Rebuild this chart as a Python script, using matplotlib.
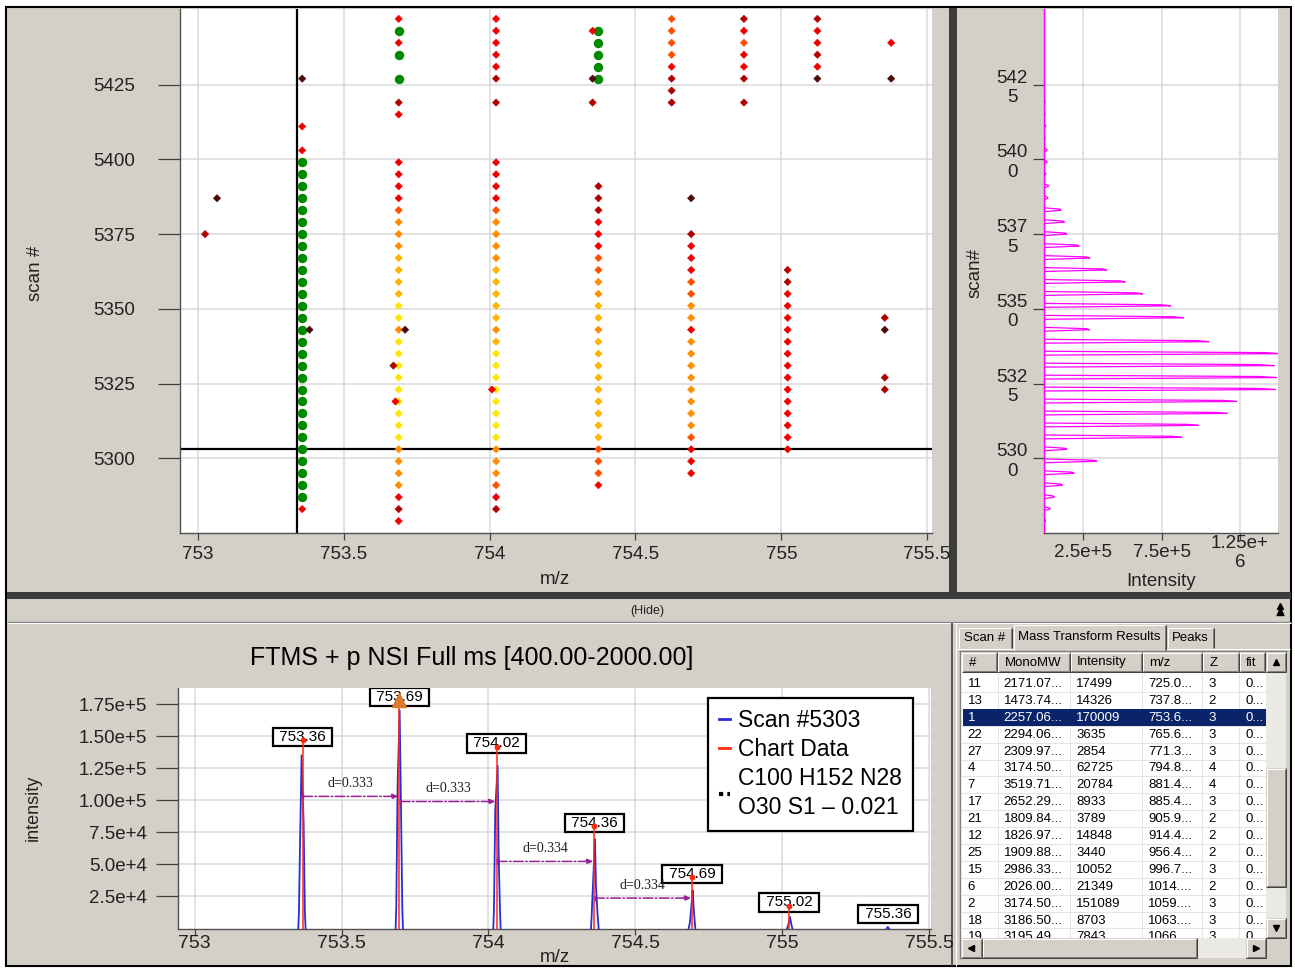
import matplotlib
matplotlib.use('Agg')
import matplotlib.pyplot as plt
from matplotlib.patches import Rectangle
from matplotlib.lines import Line2D

plt.rcParams['font.family'] = ['Liberation Sans', 'DejaVu Sans']
NARROW = ['Liberation Sans Narrow', 'Liberation Sans', 'DejaVu Sans']

# ---------------- data: scan map (top-left) ----------------
ms1_scans = [5279, 5283, 5287, 5291, 5295, 5299, 5303, 5307, 5311, 5315,
             5319, 5323, 5327, 5331, 5335, 5339, 5343, 5347, 5351, 5355,
             5359, 5363, 5367, 5371, 5375, 5379, 5383, 5387, 5391, 5395,
             5399, 5403, 5407, 5411, 5415, 5419, 5423, 5427, 5431, 5435,
             5439, 5443, 5447]

peak_col_mz = [753.357, 753.688, 754.022, 754.373, 754.353, 754.691,
               755.022, 755.355, 754.624, 754.872, 755.124, 755.377]
# one character per ms1 scan: G=isotope-fit (green), Y/A/O/N/R/D/K = intensity level, '.' = none
peak_col_levels = [
    ".R" "GGGGGGGGGG" "GGGGGGGGGG" "GGGGGGGGG" "R.R...K.....",
    "RDROOOO" "YYYYYYYYY" "OYY" "AAAA" "OOO" "N" "RRRR" "..." "RD.G.GRGR",
    ".DRN" "OOO" "YYYYYYYY" "AO" "AAAAA" "OOOO" "N" "RRRR" "...." "D.D" "RRRRR",
    "...R" "NNN" "AAAAAAAAA" "OAAOO" "NN" "RRR" "DDD" "........" "GGGGG" ".",
    ".........." ".........." ".........." "....." "D.K...R.",
    "...." "RRRN" "OOOOOOOO" "ROONN" "RRRD" ".." "K" ".........." ".....",
    "......" "RRRRRRRRRRRRRR" "DD" ".........." ".........." ".",
    "..........." "DD" "..." "KD" ".........." ".........." ".....",
    ".........." ".........." ".........." "....." "DDDRNNNN",
    ".........." ".........." ".........." "....." "D.DRRNRD",
    ".........." ".........." ".........." "......." "KRDRRD",
    ".........." ".........." ".........." "......." "K..R..",
]
out_mz = [753.065, 753.024, 753.382, 753.710, 753.670, 753.677, 754.008]
out_scan = [5387, 5375, 5343, 5343, 5331, 5319, 5323]
out_level = "KDKKDRR"
sel_mz = 753.339
sel_scan = 5303

mz_ticks = [753, 753.5, 754, 754.5, 755, 755.5]
mz_tick_labels = ["753", "753.5", "754", "754.5", "755", "755.5"]
scan_ticks = [5300, 5325, 5350, 5375, 5400, 5425]
scan_tick_labels = ["5300", "5325", "5350", "5375", "5400", "5425"]
scan_tick_labels_wrapped = ["530\n0", "532\n5", "535\n0", "537\n5", "540\n0", "542\n5"]

# ---------------- data: chromatogram (top-right) ----------------
hist_scans = [5279, 5283, 5287, 5291, 5295, 5299, 5303, 5307, 5311, 5315,
              5319, 5323, 5327, 5331, 5335, 5339, 5343, 5347, 5351, 5355,
              5359, 5363, 5367, 5371, 5375, 5379, 5383, 5387, 5391, 5395,
              5399, 5403, 5407, 5411, 5415, 5419]
hist_int = [8000, 38000, 65000, 116000, 191000, 336000, 144000, 879000, 985000, 1170000,
            1230000, 1479000, 1485000, 1470000, 1520000, 1053000, 289000, 889000, 808000, 630000,
            517000, 400000, 291000, 223000, 144000, 129000, 108000, 23000, 27000, 10000,
            18000, 18000, 5000, 10000, 5000, 5000]
int_ticks = [2.5e5, 7.5e5, 1.25e6]
int_tick_labels = ["2.5e+5", "7.5e+5", "1.25e+\n6"]

# ---------------- data: spectrum (bottom-left) ----------------
blue_peaks_mz = [
    [753.3527, 753.3550, 753.3595, 753.3641, 753.3709, 753.3754, 753.3777],
    [753.6840, 753.6863, 753.6908, 753.6977, 753.7022, 753.7067, 753.7090],
    [754.0164, 754.0187, 754.0232, 754.0312, 754.0346, 754.0391, 754.0414],
    [754.3489, 754.3512, 754.3568, 754.3625, 754.3659, 754.3716, 754.3750],
    [754.6813, 754.6858, 754.6915, 754.6949, 754.6995, 754.7040],
    [755.0160, 755.0205, 755.0262, 755.0308, 755.0342],
    [755.3553, 755.3587, 755.3632],
]
blue_peaks_int = [
    [0, 12000, 75600, 135000, 82600, 12000, 0],
    [0, 17000, 110700, 170000, 97700, 17000, 0],
    [0, 15000, 92500, 126800, 60000, 15000, 0],
    [0, 10000, 40000, 69700, 32800, 10000, 0],
    [0, 5000, 20000, 29700, 12000, 0],
    [0, 3000, 9000, 3000, 0],
    [0, 1200, 0],
]
red_mz = [753.368, 753.697, 754.028, 754.359, 754.693, 755.023]
red_int = [147000, 178000, 141800, 80000, 40000, 17800]
apex_mz = [753.367, 753.697, 754.028, 754.361, 754.693, 755.023, 755.360]
apex_int = [147000, 178000, 141800, 80000, 40000, 17800, 1200]
apex_text = ["753.36", "753.69", "754.02", "754.36", "754.69", "755.02", "755.36"]
mono_mz = 753.697
mono_int = 178000
d_start = [753.368, 753.700, 754.030, 754.361]
d_end = [753.694, 754.024, 754.357, 754.690]
d_int = [103000, 99000, 52300, 23700]
d_text = ["d=0.333", "d=0.333", "d=0.334", "d=0.334"]
spec_y_ticks = [25000, 50000, 75000, 100000, 125000, 150000, 175000]
spec_y_labels = ["2.5e+4", "5.0e+4", "7.5e+4", "1.00e+5", "1.25e+5", "1.50e+5", "1.75e+5"]
legend_labels = ["Scan #5303", "Chart Data", "C100 H152 N28\nO30 S1 \u2013 0.021"]
spec_title = "FTMS + p NSI Full ms [400.00-2000.00]"

# ---------------- data: results table ----------------
tab_names = ["Scan #", "Mass Transform Results", "Peaks"]
table_cols = ["#", "MonoMW", "Intensity", "m/z", "Z", "fit"]
table_rows = [
    ["11", "2171.07...", "17499", "725.0...", "3", "0..."],
    ["13", "1473.74...", "14326", "737.8...", "2", "0..."],
    ["1", "2257.06...", "170009", "753.6...", "3", "0..."],
    ["22", "2294.06...", "3635", "765.6...", "3", "0..."],
    ["27", "2309.97...", "2854", "771.3...", "3", "0..."],
    ["4", "3174.50...", "62725", "794.8...", "4", "0..."],
    ["7", "3519.71...", "20784", "881.4...", "4", "0..."],
    ["17", "2652.29...", "8933", "885.4...", "3", "0..."],
    ["21", "1809.84...", "3789", "905.9...", "2", "0..."],
    ["12", "1826.97...", "14848", "914.4...", "2", "0..."],
    ["25", "1909.88...", "3440", "956.4...", "2", "0..."],
    ["15", "2986.33...", "10052", "996.7...", "3", "0..."],
    ["6", "2026.00...", "21349", "1014....", "2", "0..."],
    ["2", "3174.50...", "151089", "1059....", "3", "0..."],
    ["18", "3186.50...", "8703", "1063....", "3", "0..."],
    ["19", "3195.49...", "7843", "1066....", "3", "0..."],
]
selected_row = 2

for s in peak_col_levels:
    assert len(s) == len(ms1_scans), (len(s), s)

# ---------------- styling ----------------
W, H = 1295, 968
GRAY = '#d4d0c8'
DARKBAND = '#3c3c3c'
LVL = {'Y': '#ffe600', 'A': '#ffb400', 'O': '#ff8c00', 'N': '#ff4e00',
       'R': '#f00000', 'D': '#b00000', 'K': '#4a0a0a'}
GREEN = '#008a00'
GRID = '#dadada'
TXT = '#222222'

fig = plt.figure(figsize=(W / 100, H / 100), dpi=100)
fig.patch.set_facecolor('white')


def rect(x0, y0, x1, y1):
    return [x0 / W, 1 - y1 / H, (x1 - x0) / W, (y1 - y0) / H]


bg = fig.add_axes([0, 0, 1, 1])
bg.set_xlim(0, W)
bg.set_ylim(H, 0)
bg.axis('off')


def box(x0, y0, x1, y1, fc, ec='none', lw=0, z=1):
    bg.add_patch(Rectangle((x0, y0), x1 - x0, y1 - y0, fc=fc, ec=ec, lw=lw, zorder=z))


def hl(x0, x1, y, c, lw=0.75, z=2):
    bg.plot([x0, x1], [y, y], color=c, lw=lw, zorder=z, solid_capstyle='butt')


def vl(x, y0, y1, c, lw=0.75, z=2):
    bg.plot([x, x], [y0, y1], color=c, lw=lw, zorder=z, solid_capstyle='butt')


def bevel(x0, y0, x1, y1, z=5):
    box(x0, y0, x1, y1, GRAY, z=z)
    hl(x0, x1, y0 + 0.5, 'white', z=z + 0.1)
    vl(x0 + 0.5, y0, y1, 'white', z=z + 0.1)
    hl(x0, x1, y1 - 0.5, '#404040', z=z + 0.1)
    vl(x1 - 0.5, y0, y1, '#404040', z=z + 0.1)
    hl(x0 + 1, x1 - 1, y1 - 1.5, '#808080', z=z + 0.1)
    vl(x1 - 1.5, y0 + 1, y1 - 1, '#808080', z=z + 0.1)


# window chrome
box(6, 7, 1291, 966, GRAY, ec='black', lw=1.5, z=0.5)
box(949, 8, 957, 592, DARKBAND, z=1)
box(7, 592, 1291, 599, DARKBAND, z=1)
hl(7, 1291, 621.5, '#808080', lw=1)
hl(7, 1291, 622.7, 'white', lw=0.8)
bg.text(647, 611, "(Hide)", fontsize=9, family=NARROW, ha='center', va='center', color=TXT)
bg.plot([1280], [606], marker='^', ms=5, color='black', zorder=3)
bg.plot([1280], [611], marker='^', ms=5, color='black', zorder=3)
hl(1276, 1284, 615, 'black', lw=1, z=3)
vl(951.5, 623, 966, '#404040', lw=1.2)
vl(955.5, 623, 966, 'white', lw=0.8)

# tabs
tab_x = [(958, 1012), (1013, 1166), (1167, 1214)]
hl(955, 1290, 648.5, 'white', lw=0.8, z=2)
for i, (name, (tx0, tx1)) in enumerate(zip(tab_names, tab_x)):
    ty0 = 624 if i == 1 else 627
    ty1 = 649.5 if i == 1 else 648
    box(tx0, ty0, tx1, ty1, GRAY, z=2.2)
    hl(tx0 + 1, tx1 - 1, ty0 + 0.5, 'white', z=2.3)
    vl(tx0 + 0.5, ty0 + 1, ty1, 'white', z=2.3)
    vl(tx1 - 0.5, ty0 + 1, ty1, '#404040', z=2.3)
    vl(tx1 - 1.5, ty0 + 1, ty1, '#808080', z=2.3)
    bg.text((tx0 + tx1) / 2, (ty0 + ty1) / 2 + 0.5, name, fontsize=9.5, ha='center',
            va='center', color='black', zorder=2.5)

# grid area
col_x = [961.7, 997.7, 1070, 1142.3, 1202.3, 1239, 1265.7]
box(961, 652, 1267, 938, 'white', z=2)
hl(959, 1287, 651.3, '#808080', lw=1, z=2.1)
vl(959.8, 651, 959, '#808080', lw=1, z=2.1)
row_h = 16.9
row_top0 = 675
for r, row in enumerate(table_rows):
    yt = row_top0 + r * row_h
    sel = (r == selected_row)
    if sel:
        box(962.5, yt, 1265.7, yt + row_h, '#0a246a', z=3)
    hl(961, 1266, yt + row_h, '#e4e4e4', lw=0.8, z=2.6)
    for c, val in enumerate(row):
        bg.text(col_x[c] + 6, yt + row_h / 2 + 0.5, val, fontsize=9.5, ha='left', va='center',
                color='white' if sel else 'black', zorder=4)
for cx in col_x[1:-1]:
    vl(cx, 672, 938, '#e4e4e4', lw=0.8, z=2.6)
for c, name in enumerate(table_cols):
    bevel(col_x[c], 652, col_x[c + 1], 672, z=4.5)
    bg.text(col_x[c] + 7, 662.5, name, fontsize=9.5, ha='left', va='center', color='black', zorder=4.8)

# scroll bars
box(1266, 652, 1286, 938, '#ebe9e4', z=5)
bevel(1266, 652, 1286, 672, z=5.2)
bg.plot([1276], [661.5], marker='^', ms=4.5, color='black', zorder=6)
bevel(1266, 768, 1286, 887, z=5.2)
bevel(1266, 918, 1286, 938, z=5.2)
bg.plot([1276], [927.5], marker='v', ms=4.5, color='black', zorder=6)
box(961, 938, 1266, 958, '#ebe9e4', z=5)
bevel(961, 938, 982, 958, z=5.2)
bg.plot([971], [948], marker='<', ms=4.5, color='black', zorder=6)
bevel(982, 938, 1197, 958, z=5.2)
bevel(1246, 938, 1266, 958, z=5.2)
bg.plot([1256], [948], marker='>', ms=4.5, color='black', zorder=6)
box(1266, 938, 1286, 958, GRAY, z=5.1)


def style_axes(ax):
    ax.set_facecolor('white')
    for sp in ['top', 'right']:
        ax.spines[sp].set_visible(False)
    for sp in ['left', 'bottom']:
        ax.spines[sp].set_color('#505050')
        ax.spines[sp].set_linewidth(1.0)
    ax.grid(True, color=GRID, lw=1.1)
    ax.set_axisbelow(True)


# ---------------- top-left: scan map ----------------
ax1 = fig.add_axes(rect(180, 9, 932, 533))
style_axes(ax1)
ax1.set_xlim(752.938, 755.517)
ax1.set_ylim(5275.0, 5450.3)
ax1.set_xticks(mz_ticks)
ax1.set_xticklabels(mz_tick_labels)
ax1.set_yticks(scan_ticks)
ax1.set_yticklabels(scan_tick_labels)
ax1.tick_params(axis='y', length=15.8, width=0.9, pad=16.5, labelsize=13.5,
                color='#404040', labelcolor=TXT)
ax1.tick_params(axis='x', length=5, width=0.9, pad=4.2, labelsize=13.5,
                color='#404040', labelcolor=TXT)

gx, gy, sx, sy, sc = [], [], [], [], []
for mz, levels in zip(peak_col_mz, peak_col_levels):
    for scan, lv in zip(ms1_scans, levels):
        if lv == '.':
            continue
        if lv == 'G':
            gx.append(mz)
            gy.append(scan)
        else:
            sx.append(mz)
            sy.append(scan)
            sc.append(LVL[lv])
for mz, scan, lv in zip(out_mz, out_scan, out_level):
    sx.append(mz)
    sy.append(scan)
    sc.append(LVL[lv])

ax1.axvline(sel_mz, color='black', lw=1.6, zorder=2)
ax1.axhline(sel_scan, color='black', lw=1.6, zorder=2)
ax1.scatter(gx, gy, s=46, c=GREEN, marker='o', linewidths=0, zorder=3)
ax1.scatter(sx, sy, s=14, c=sc, marker='D', linewidths=0.4, edgecolors=sc, zorder=4)

bg.text(35, 273, "scan #", rotation=90, fontsize=13.5, ha='center', va='center', color=TXT)
bg.text(555, 580, "m/z", fontsize=13.5, ha='center', va='center', color=TXT)

# ---------------- top-right: intensity vs scan ----------------
ax2 = fig.add_axes(rect(1044, 9, 1278, 533))
style_axes(ax2)
ax2.set_xlim(-1500, 1.4936e6)
ax2.set_ylim(5275.0, 5450.3)
ax2.set_xticks(int_ticks)
ax2.set_xticklabels(int_tick_labels, va='center', ma='center', linespacing=1.1)
ax2.set_yticks(scan_ticks)
ax2.set_yticklabels(scan_tick_labels_wrapped, ma='center', linespacing=1.2)
ax2.tick_params(axis='y', length=7.9, width=0.9, pad=3.6, labelsize=13.5,
                color='#404040', labelcolor=TXT)
ax2.tick_params(axis='x', length=4.7, width=0.9, pad=9.6, labelsize=13.5,
                color='#404040', labelcolor=TXT)
hx, hy = [], []
for scan, val in zip(hist_scans, hist_int):
    hx += [0, val, val * 0.93, 0]
    hy += [scan - 0.5, scan, scan + 0.35, scan + 0.8]
ax2.axvline(0, color='#ff00ff', lw=1.6, zorder=3)
ax2.plot(hx, hy, color='#ff00ff', lw=0.9, zorder=3)
bg.text(975, 273, "scan#", rotation=90, fontsize=13.5, ha='center', va='center', color=TXT)
bg.text(1161, 581, "Intensity", fontsize=13.5, ha='center', va='center', color=TXT)

# ---------------- bottom-left: spectrum ----------------
ax3 = fig.add_axes(rect(178, 688, 931, 928.5))
style_axes(ax3)
ax3.set_xlim(752.9435, 755.506)
ax3.set_ylim(0, 187500)
ax3.set_xticks(mz_ticks)
ax3.set_xticklabels(mz_tick_labels)
ax3.set_yticks(spec_y_ticks)
ax3.set_yticklabels(spec_y_labels)
ax3.tick_params(axis='y', length=15.8, width=0.9, pad=6.5, labelsize=13.5,
                color='#404040', labelcolor=TXT)
ax3.tick_params(axis='x', length=4, width=0.9, pad=0.5, labelsize=14,
                color='#404040', labelcolor=TXT)

BLUE = '#2b2bd8'
RED = '#ff2a10'
PURPLE = '#9a209a'
for pmz, pint in zip(blue_peaks_mz, blue_peaks_int):
    ax3.plot(pmz, pint, color=BLUE, lw=1.3, zorder=3)
ax3.vlines(red_mz, 0, red_int, color=RED, lw=1.1, zorder=5)
ax3.plot(red_mz, red_int, 'o', color=RED, ms=3.2, zorder=6)
for x, top, txt in zip(apex_mz, apex_int, apex_text):
    ax3.text(x, max(top + 2500, 11500), " " + txt + " ", ha='center', va='center', fontsize=11,
             zorder=4.5, clip_on=True,
             bbox=dict(boxstyle='square,pad=0.14', fc='white', ec='black', lw=1.6))
ax3.plot([mono_mz], [mono_int], marker='^', ms=10, color='#d97a2e', zorder=7)
for x0, x1, y, txt in zip(d_start, d_end, d_int, d_text):
    ax3.annotate('', xy=(x1, y), xytext=(x0, y),
                 arrowprops=dict(arrowstyle='-|>,head_length=0.35,head_width=0.15', color=PURPLE,
                                 lw=1.1, linestyle='-.', shrinkA=0, shrinkB=0), zorder=6)
    ax3.plot([x0], [y], marker='|', ms=5, color=PURPLE, zorder=6)
    ax3.annotate(txt, xy=((x0 + x1) / 2, y), xytext=(0, 9.1), textcoords='offset points',
                 ha='center', va='center', fontsize=10, family=['Liberation Serif', 'DejaVu Serif'],
                 color='#202020', zorder=6)

handles = [Line2D([], [], color=BLUE, lw=2),
           Line2D([], [], color=RED, lw=2),
           Line2D([], [], color='black', lw=3, linestyle=(0, (1, 1)))]
leg = ax3.legend(handles, legend_labels, loc='upper left', bbox_to_anchor=(708 / W, 1 - 698 / H),
                 bbox_transform=fig.transFigure, fontsize=16.5, frameon=True, fancybox=False,
                 edgecolor='black', framealpha=1, borderpad=0.5, handlelength=0.45,
                 handletextpad=0.35, labelspacing=0.25, borderaxespad=0)
leg.get_frame().set_linewidth(1.6)
leg.get_texts()[2].set_linespacing(1.35)
leg.set_zorder(10)

bg.text(472, 658, spec_title, fontsize=18, ha='center', va='center', color='black')
bg.text(33, 808, "intensity", rotation=90, fontsize=13, ha='center', va='center', color=TXT)
bg.text(555, 958, "m/z", fontsize=13.5, ha='center', va='center', color=TXT)

fig.savefig('out.png', dpi=100, facecolor=fig.get_facecolor())
